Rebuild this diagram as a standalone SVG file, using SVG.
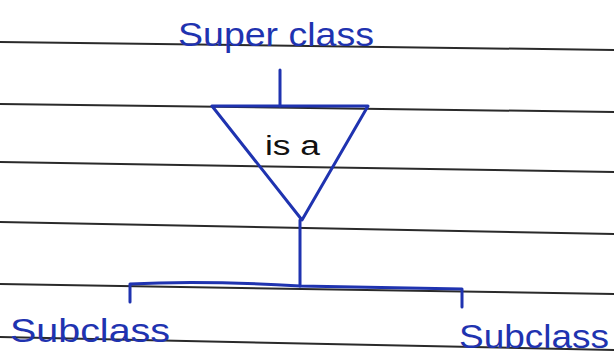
<svg xmlns="http://www.w3.org/2000/svg" width="614" height="359" viewBox="0 0 614 359">
<style>
.rule{stroke:#2a2a2a;stroke-width:2;fill:none}
.ink{stroke:#1f33b0;stroke-width:3;fill:none;stroke-linecap:round;stroke-linejoin:round}
.lbl{font-family:"Liberation Sans","DejaVu Sans",sans-serif;font-size:33px;fill:#1f33b0}
.rel{font-family:"Liberation Sans","DejaVu Sans",sans-serif;font-size:27px;fill:#111}
</style>
<rect width="614" height="359" fill="#ffffff"/>
<g id="paper">
<path class="rule" d="M0,42 L614,50"/>
<path class="rule" d="M0,104 L614,112"/>
<path class="rule" d="M0,162 L614,172"/>
<path class="rule" d="M0,222 L614,234"/>
<path class="rule" d="M0,284 L614,294"/>
<path class="rule" d="M0,337 L614,350"/>
</g>
<g id="superclass">
<text class="lbl" x="178" y="46" textLength="196" lengthAdjust="spacingAndGlyphs">Super class</text>
</g>
<g id="isa">
<path class="ink" d="M212,106 L368,106 L302,220 Z"/>
<text class="rel" x="265" y="155" textLength="55" lengthAdjust="spacingAndGlyphs">is a</text>
</g>
<g id="subclass-left">
<text class="lbl" x="10" y="342" textLength="160" lengthAdjust="spacingAndGlyphs">Subclass</text>
</g>
<g id="subclass-right">
<text class="lbl" x="459" y="348" textLength="150" lengthAdjust="spacingAndGlyphs">Subclass</text>
</g>
<g id="connectors">
<path class="ink" d="M280,70 L280,106"/>
<path class="ink" d="M300,220 L300,286"/>
<path class="ink" d="M130,302 L130,284 Q200,280 300,286 Q400,288 462,289 L462,307"/>
</g>
</svg>
